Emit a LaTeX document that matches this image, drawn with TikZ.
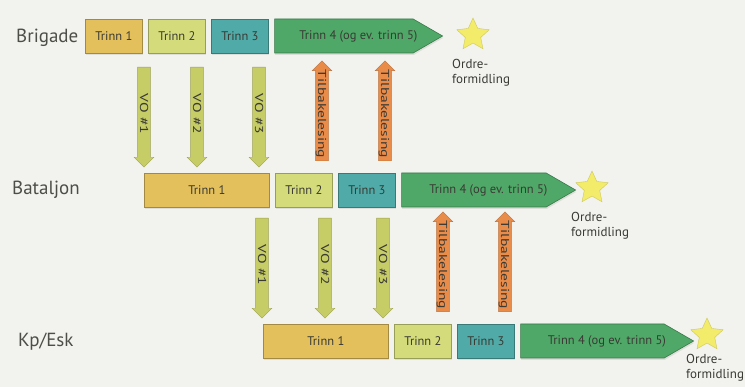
\documentclass[tikz,border=0pt]{standalone}
\usepackage{fontspec}
\setmainfont{PT Sans}
\usetikzlibrary{positioning,shapes.arrows,shapes.geometric,shapes.symbols,shadows}

\definecolor{trinnA}{HTML}{E3C05C}
\definecolor{trinnB}{HTML}{D3DB7A}
\definecolor{trinnC}{HTML}{4FAAA8}
\definecolor{trinnD}{HTML}{4FA867}
\definecolor{voCol}{HTML}{C6CC66}
\definecolor{tbCol}{HTML}{E98C4A}
\definecolor{starCol}{HTML}{F2EC6A}
\definecolor{bgCol}{HTML}{F2F2EF}
\definecolor{txtCol}{HTML}{3A3A34}

% text along the block arrows is set wide
\newcommand{\arrowtext}[1]{\scalebox{1.35}[1]{#1}}
% text of the last stage is centred on the whole shape, tip included
\newcommand{\tiptext}[1]{\makebox[0pt]{\hspace*{29pt}#1}}

\tikzset{
  stage/.style={draw=#1!72!black, fill=#1, line width=.6pt, minimum height=34pt,
    inner sep=0pt, text=txtCol, font=\fontsize{12.5}{14}\selectfont,
    drop shadow={opacity=.18, shadow xshift=.5pt, shadow yshift=-2pt}},
  last stage/.style={stage=trinnD, signal, signal to=east, signal pointer angle=60},
  level/.style={text=txtCol!90, font=\fontsize{19}{22}\selectfont, anchor=west, inner sep=0pt},
  blockarrow/.style={single arrow, fill=#1, draw=#1!80!black, line width=.4pt, rotate=-90,
    minimum height=100pt, single arrow head extend=3.5pt, text height=8pt, text depth=0pt,
    inner xsep=1pt, inner ysep=2.2pt, text=txtCol, font=\fontsize{11.5}{13}\selectfont},
  vo/.style={blockarrow=voCol},
  tb/.style={blockarrow=tbCol, shape border rotate=180},
  goal/.style={star, star points=5, star point ratio=2.1, fill=starCol,
    draw=starCol!85!black, minimum size=34pt, inner sep=0pt},
  ordre/.style={font=\fontsize{13}{15}\selectfont, align=left, anchor=north west,
    inner sep=0pt, text=txtCol}
}

\begin{document}
\begin{tikzpicture}[x=1pt, y=1pt, node distance=5.5pt]
  \fill[bgCol] (0,0) rectangle (745,-387);
  \useasboundingbox (0,0) rectangle (745,-387);

  % Brigade
  \node[level] (brig) at (16,-38) {Brigade};
  \node[stage=trinnA, minimum width=57pt, anchor=west] (b1) at (85,-36) {Trinn 1};
  \node[stage=trinnB, minimum width=57pt, right=of b1] (b2) {Trinn 2};
  \node[stage=trinnC, minimum width=57pt, right=of b2] (b3) {Trinn 3};
  \node[last stage, minimum width=168pt, right=of b3] (b4) {\tiptext{Trinn 4 (og ev. trinn 5)}};
  \node[goal] (bs) at (473,-35) {};
  \node[ordre] (bo) at ([xshift=-21pt,yshift=-24pt]bs.center) {Ordre-\\formidling};

  \node[vo] (bv1) at (144,-114) {\arrowtext{VO \#1}};
  \node[vo] (bv2) at (197,-114) {\arrowtext{VO \#2}};
  \node[vo] (bv3) at (259,-114) {\arrowtext{VO \#3}};
  \node[tb] (bt1) at (322,-114) {\arrowtext{Tilbakelesing}};
  \node[tb] (bt2) at (385,-114) {\arrowtext{Tilbakelesing}};

  % Bataljon
  \node[level] (bat) at (12,-190) {Bataljon};
  \node[stage=trinnA, minimum width=125pt, anchor=west] (t1) at (144,-190) {Trinn 1};
  \node[stage=trinnB, minimum width=57pt, right=of t1] (t2) {Trinn 2};
  \node[stage=trinnC, minimum width=57pt, right=of t2] (t3) {Trinn 3};
  \node[last stage, minimum width=174pt, right=of t3] (t4) {\tiptext{Trinn 4 (og ev. trinn 5)}};
  \node[goal] (ts) at (592,-188) {};
  \node[ordre] (to) at ([xshift=-21pt,yshift=-24pt]ts.center) {Ordre-\\formidling};

  \node[vo] (tv1) at (262,-265) {\arrowtext{VO \#1}};
  \node[vo] (tv2) at (325,-265) {\arrowtext{VO \#2}};
  \node[vo] (tv3) at (383,-265) {\arrowtext{VO \#3}};
  \node[tb] (tt1) at (443,-265) {\arrowtext{Tilbakelesing}};
  \node[tb] (tt2) at (505,-265) {\arrowtext{Tilbakelesing}};

  % Kp/Esk
  \node[level] (kp) at (18,-342) {Kp/Esk};
  \node[stage=trinnA, minimum width=125pt, anchor=west] (k1) at (263,-341) {Trinn 1};
  \node[stage=trinnB, minimum width=57pt, right=of k1] (k2) {Trinn 2};
  \node[stage=trinnC, minimum width=57pt, right=of k2] (k3) {Trinn 3};
  \node[last stage, minimum width=173pt, right=of k3] (k4) {\tiptext{Trinn 4 (og ev. trinn 5)}};
  \node[goal] (ks) at (707,-335) {};
  \node[ordre] (ko) at ([xshift=-21pt,yshift=-19pt]ks.center) {Ordre-\\formidling};
\end{tikzpicture}
\end{document}
